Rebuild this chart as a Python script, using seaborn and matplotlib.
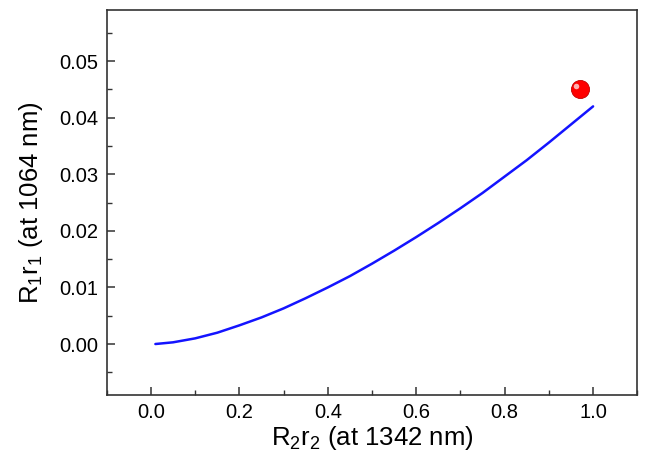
import numpy as np
import pandas as pd
import matplotlib
matplotlib.use("Agg")
import matplotlib.pyplot as plt
import matplotlib.transforms as mtransforms
import seaborn as sns

# Data
r2_values = [0.01, 0.05, 0.10, 0.15, 0.20, 0.25, 0.30, 0.35, 0.40, 0.45, 0.50,
             0.55, 0.60, 0.65, 0.70, 0.75, 0.80, 0.85, 0.90, 0.95, 1.00]
r1_values = [0.0000, 0.0003, 0.0010, 0.0020, 0.0033, 0.0047, 0.0063, 0.0081, 0.0100, 0.0120, 0.0142,
             0.0165, 0.0189, 0.0214, 0.0240, 0.0267, 0.0296, 0.0325, 0.0356, 0.0388, 0.0420]
point_x = [0.97]
point_y = [0.045]
x_ticks = [0.0, 0.2, 0.4, 0.6, 0.8, 1.0]
y_ticks = [0.00, 0.01, 0.02, 0.03, 0.04, 0.05]

sns.set_theme(style="white")
plt.rcParams['font.family'] = ['Liberation Sans', 'DejaVu Sans']
plt.rcParams['mathtext.default'] = 'regular'

fig = plt.figure(figsize=(6.47, 4.63), dpi=100)
ax = fig.add_axes([0.165, 0.147, 0.82, 0.831])

df = pd.DataFrame({"x": r2_values, "y": r1_values})
sns.lineplot(data=df, x="x", y="y", ax=ax, color="#1414ff", linewidth=1.8)

sns.scatterplot(x=point_x, y=point_y, ax=ax, s=170, color="#ff0000",
                edgecolor="#c00000", linewidth=0.6, zorder=5)
hl = mtransforms.offset_copy(ax.transData, fig=fig, x=-2.5, y=2.5, units='points')
ax.plot(point_x, point_y, 'o', ms=4, color="#ffb0b0", mec='none', transform=hl, zorder=6)

ax.set_xlim(-0.1, 1.1)
ax.set_ylim(-0.009, 0.059)
ax.set_xticks(x_ticks)
ax.set_xticklabels([f"{v:.1f}" for v in x_ticks])
ax.set_yticks(y_ticks)
ax.set_yticklabels([f"{v:.2f}" for v in y_ticks])
ax.xaxis.set_minor_locator(matplotlib.ticker.MultipleLocator(0.1))
ax.yaxis.set_minor_locator(matplotlib.ticker.MultipleLocator(0.005))

ax.tick_params(axis='both', which='major', direction='in', length=6, width=1.1,
               color='#333333', labelsize=14.5, pad=6, top=False, right=False,
               bottom=True, left=True, labelcolor='black')
ax.tick_params(axis='both', which='minor', direction='in', length=3.5, width=1.0,
               color='#333333', top=False, right=False, bottom=True, left=True)

for sp in ax.spines.values():
    sp.set_visible(True)
    sp.set_color('#333333')
    sp.set_linewidth(1.2)

ax.set_xlabel("R$_2$r$_2$ (at 1342 nm)", fontsize=18.5, labelpad=1, color='black')
ax.set_ylabel("R$_1$r$_1$ (at 1064 nm)", fontsize=18.5, labelpad=10, color='black')

fig.savefig("out.png", dpi=100)
